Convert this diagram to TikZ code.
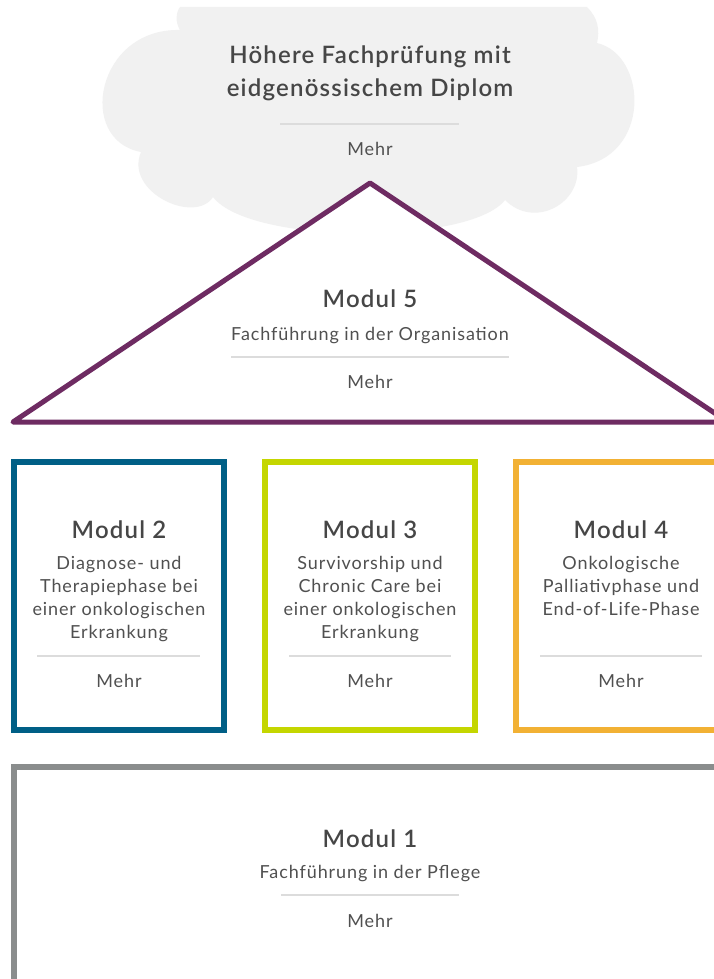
\documentclass[tikz,border=0pt]{standalone}
\usepackage{fontspec}
\setmainfont{Lato}[LetterSpace=5, BoldFont={Lato Semibold}]
\definecolor{cloudgray}{HTML}{F1F1F1}
\definecolor{titlegray}{HTML}{464646}
\definecolor{bodygray}{HTML}{505050}
\definecolor{sepgray}{HTML}{DCDCDC}
\definecolor{roofpurple}{HTML}{6E2B62}
\definecolor{modblue}{HTML}{005F86}
\definecolor{modgreen}{HTML}{C4D600}
\definecolor{modorange}{HTML}{F2B134}
\definecolor{modgray}{HTML}{8A8D8D}
\newcommand{\mlines}[1]{\begin{tabular}[t]{@{}c@{}}#1\end{tabular}}
\begin{document}
\begin{tikzpicture}[x=1pt,y=-1pt,
  titletext/.style={font=\fontsize{24}{33}\selectfont\bfseries, text=titlegray, anchor=base, inner sep=0pt},
  bodytext/.style={font=\fontsize{18}{23.3}\selectfont, text=bodygray, anchor=base, inner sep=0pt},
  moretext/.style={font=\fontsize{18}{22}\selectfont, text=bodygray, anchor=base, inner sep=0pt},
  sepline/.style={draw=sepgray, line width=1.3pt},
  modbox/.style={line width=6pt, fill=white}]
\useasboundingbox (0,0) rectangle (714,979);
\clip (0,0) rectangle (714,979);
\fill[white] (0,0) rectangle (714,979);
% cloud
\fill[cloudgray] (180,7) -- (587,7)
  .. controls (598,18) and (600,30) .. (597,43)
  .. controls (648,55) and (652,158) .. (577,167)
  .. controls (582,202) and (535,230) .. (505,200)
  .. controls (470,245) and (250,245) .. (213,197)
  .. controls (195,225) and (124,192) .. (141,152)
  .. controls (76,140) and (96,28) .. (180,30)
  .. controls (175,22) and (176,12) .. (180,7) -- cycle;
\node[titletext] (hfp1) at (370,64) {Höhere Fachprüfung mit};
\node[titletext] (hfp2) at (370,97) {eidgenössischem Diplom};
\coordinate (hfpsl) at (280,124);
\coordinate (hfpsr) at (459,124);
\draw[sepline] (hfpsl) -- (hfpsr);
\node[moretext] (hfpm) at (370,155) {Mehr};
% roof (Modul 5)
\coordinate (apex) at (370,183);
\coordinate (roofr) at (728,422);
\coordinate (roofl) at (13,422);
\draw[draw=roofpurple, line width=5pt, line join=round, fill=white] (apex) -- (roofr) -- (roofl) -- cycle;
\node[titletext] (m5t) at (370,307) {Modul 5};
\node[bodytext] (m5b) at (370,340) {Fachführung in der Organisation};
\coordinate (m5sl) at (231,357);
\coordinate (m5sr) at (509,357);
\draw[sepline] (m5sl) -- (m5sr);
\node[moretext] (m5m) at (370,388) {Mehr};
% Modul 2
\draw[modbox, draw=modblue] (14,462) rectangle (224,730);
\node[titletext] (m2t) at (119,538) {Modul 2};
\node[bodytext] (m2b) at (119,569) {\mlines{Diagnose- und\\Therapiephase bei\\einer onkologischen\\Erkrankung}};
\coordinate (m2sl) at (37,656);
\coordinate (m2sr) at (200,656);
\draw[sepline] (m2sl) -- (m2sr);
\node[moretext] (m2m) at (119,687) {Mehr};
% Modul 3
\draw[modbox, draw=modgreen] (265,462) rectangle (475,730);
\node[titletext] (m3t) at (370,538) {Modul 3};
\node[bodytext] (m3b) at (370,569) {\mlines{Survivorship und\\Chronic Care bei\\einer onkologischen\\Erkrankung}};
\coordinate (m3sl) at (289,656);
\coordinate (m3sr) at (451,656);
\draw[sepline] (m3sl) -- (m3sr);
\node[moretext] (m3m) at (370,687) {Mehr};
% Modul 4
\draw[modbox, draw=modorange] (516,462) rectangle (726,730);
\node[titletext] (m4t) at (621,538) {Modul 4};
\node[bodytext] (m4b) at (621,569) {\mlines{Onkologische\\Palliativphase und\\End-of-Life-Phase}};
\coordinate (m4sl) at (540,656);
\coordinate (m4sr) at (702,656);
\draw[sepline] (m4sl) -- (m4sr);
\node[moretext] (m4m) at (621,687) {Mehr};
% Modul 1
\draw[modbox, draw=modgray] (14,766.5) rectangle (726,981.5);
\node[titletext] (m1t) at (370,847) {Modul 1};
\node[bodytext] (m1b) at (370,878) {Fachführung in der Pflege};
\coordinate (m1sl) at (281,895);
\coordinate (m1sr) at (459,895);
\draw[sepline] (m1sl) -- (m1sr);
\node[moretext] (m1m) at (370,927) {Mehr};
\end{tikzpicture}
\end{document}
